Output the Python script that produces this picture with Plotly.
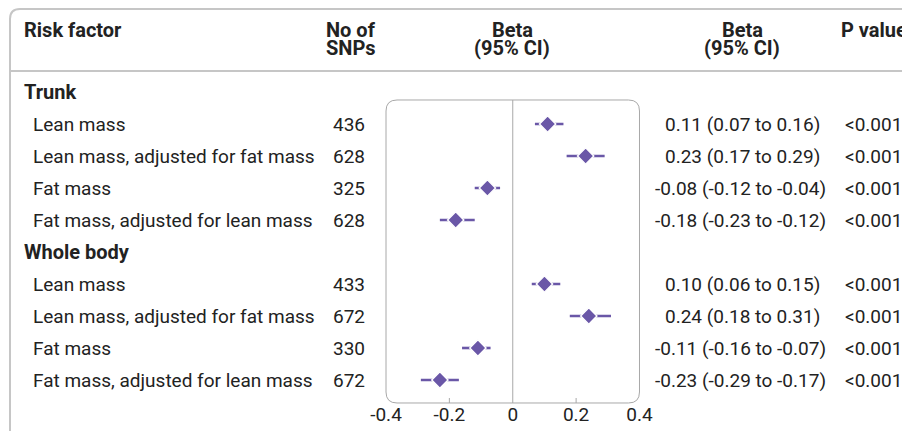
import plotly.graph_objects as go

W, H = 910, 431
OFF = 8  # page body margin compensation

groups = ["Trunk", "Whole body"]
factors = ["Lean mass", "Lean mass, adjusted for fat mass", "Fat mass", "Fat mass, adjusted for lean mass"]
snps_trunk = [436, 628, 325, 628]
snps_whole = [433, 672, 330, 672]
beta_trunk = [0.11, 0.23, -0.08, -0.18]
low_trunk = [0.07, 0.17, -0.12, -0.23]
high_trunk = [0.16, 0.29, -0.04, -0.12]
beta_whole = [0.10, 0.24, -0.11, -0.23]
low_whole = [0.06, 0.18, -0.16, -0.29]
high_whole = [0.15, 0.31, -0.07, -0.17]
pvals_trunk = ["<0.001"] * 4
pvals_whole = ["<0.001"] * 4
tick_vals = [-0.4, -0.2, 0, 0.2, 0.4]
tick_text = ["-0.4", "-0.2", "0", "0.2", "0.4"]

PURPLE = "#6a57a7"
TXT = "#222222"
FONT = "Roboto"
FS = 19
FSB = 20

def px(x):
    return (x - OFF) / W

def py(y):
    return 1 - (y - OFF) / H

row_y, labels, snps, betas, lows, highs, pvals = [], [], [], [], [], [], []
for g, (sn, b, lo, hi, pv) in enumerate([
        (snps_trunk, beta_trunk, low_trunk, high_trunk, pvals_trunk),
        (snps_whole, beta_whole, low_whole, high_whole, pvals_whole)]):
    base = g * 5
    for k in range(4):
        row_y.append(base + k + 1)
        labels.append(factors[k])
        snps.append(sn[k])
        betas.append(b[k])
        lows.append(lo[k])
        highs.append(hi[k])
        pvals.append(pv[k])

BX0, BX1, BY0, BY1 = 386, 639.5, 100, 403
ROW0, ROWSTEP = 92, 32
r_top = (OFF - ROW0) / ROWSTEP
r_bot = (H + OFF - ROW0) / ROWSTEP

fig = go.Figure()
fig.add_trace(go.Scatter(
    x=betas, y=row_y, mode="markers",
    marker=dict(symbol="diamond", size=12.5, color=PURPLE, line=dict(color="white", width=1.4)),
    error_x=dict(type="data", symmetric=False,
                 array=[h - b for h, b in zip(highs, betas)],
                 arrayminus=[b - l for b, l in zip(betas, lows)],
                 color=PURPLE, thickness=2.6, width=0),
    hoverinfo="skip", cliponaxis=False,
))

ann = []
def A(x, y, text, xanchor="left", bold=False, yref="paper"):
    ann.append(dict(x=x, y=y, xref="paper", yref=yref, text=("<b>%s</b>" % text) if bold else text,
                    showarrow=False, xanchor=xanchor, yanchor="middle", borderpad=0,
                    font=dict(family=FONT, size=FSB if bold else FS, color=TXT)))

# headers
A(px(23), py(30), "Risk factor", bold=True)
A(px(325), py(30), "No of", bold=True)
A(px(325), py(48), "SNPs", bold=True)
A(px(512), py(30), "Beta", "center", bold=True)
A(px(512), py(48), "(95% CI)", "center", bold=True)
A(px(742), py(30), "Beta", "center", bold=True)
A(px(742), py(48), "(95% CI)", "center", bold=True)
A(px(908), py(30), "P value", "right", bold=True)

for g, name in enumerate(groups):
    A(px(23), g * 5, name, bold=True, yref="y")

for i in range(len(row_y)):
    A(px(32), row_y[i], labels[i], yref="y")
    A(px(366), row_y[i], str(snps[i]), "right", yref="y")
    txt = "%.2f (%.2f to %.2f)" % (betas[i], lows[i], highs[i])
    A(px(664 if betas[i] >= 0 else 654), row_y[i], txt, yref="y")
    A(px(903), row_y[i], pvals[i], "right", yref="y")

shapes = []
GRAY = "#c6c6c6"
r = 10
shapes.append(dict(type="path", xref="paper", yref="paper",
                   path="M %f,%f L %f,%f Q %f,%f %f,%f L %f,%f" % (
                       px(10), py(440), px(10), py(9 + r), px(10), py(9), px(10 + r), py(9), px(925), py(9)),
                   line=dict(color=GRAY, width=2)))
shapes.append(dict(type="line", xref="paper", yref="paper", x0=px(10), x1=px(925), y0=py(71), y1=py(71),
                   line=dict(color=GRAY, width=2)))
rb = 11
bx = "M %f,%f L %f,%f Q %f,%f %f,%f L %f,%f Q %f,%f %f,%f L %f,%f Q %f,%f %f,%f L %f,%f Q %f,%f %f,%f Z" % (
    px(BX0 + rb), py(BY0), px(BX1 - rb), py(BY0),
    px(BX1), py(BY0), px(BX1), py(BY0 + rb),
    px(BX1), py(BY1 - rb),
    px(BX1), py(BY1), px(BX1 - rb), py(BY1),
    px(BX0 + rb), py(BY1),
    px(BX0), py(BY1), px(BX0), py(BY1 - rb),
    px(BX0), py(BY0 + rb),
    px(BX0), py(BY0), px(BX0 + rb), py(BY0))
shapes.append(dict(type="path", xref="paper", yref="paper", path=bx, line=dict(color="#a8a8a8", width=1), layer="below"))
shapes.append(dict(type="line", xref="x", yref="paper", x0=0, x1=0, y0=py(BY0), y1=py(BY1),
                   line=dict(color="#a8a8a8", width=1), layer="below"))
for v in tick_vals:
    if abs(v) not in (0.4, 0):
        shapes.append(dict(type="line", xref="x", yref="paper", x0=v, x1=v, y0=py(BY1), y1=py(BY1 - 5),
                           line=dict(color="#a8a8a8", width=1), layer="below"))

fig.update_layout(
    width=W, height=H, margin=dict(l=0, r=0, t=0, b=0, pad=0, autoexpand=False),
    paper_bgcolor="white", plot_bgcolor="rgba(0,0,0,0)",
    showlegend=False,
    xaxis=dict(domain=[px(BX0), px(BX1)], range=[-0.4, 0.4], showgrid=False, zeroline=False,
               showline=False, tickvals=tick_vals, ticktext=tick_text, ticks="",
               anchor="free", position=py(BY1), automargin=False, ticklabelstandoff=-2,
               tickfont=dict(family=FONT, size=FS, color=TXT), fixedrange=True),
    yaxis=dict(domain=[0, 1], range=[r_bot, r_top], showgrid=False, zeroline=False,
               showline=False, showticklabels=False, ticks="", automargin=False, fixedrange=True),
    annotations=ann, shapes=shapes,
)

fig.write_html("out.html")
